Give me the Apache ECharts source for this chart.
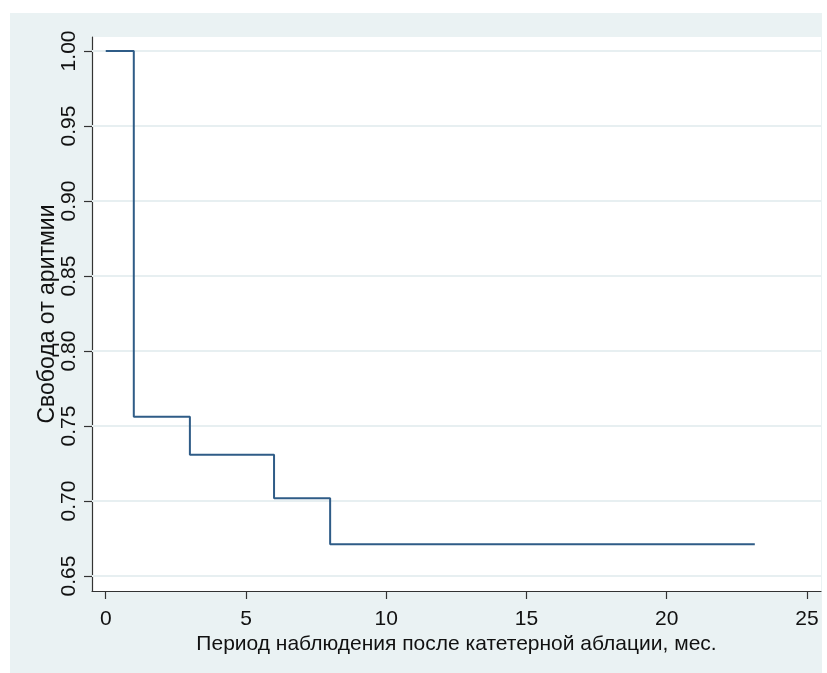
<!DOCTYPE html>
<html>
<head>
<meta charset="utf-8">
<script src="https://cdn.jsdelivr.net/npm/echarts@6/dist/echarts.min.js"></script>
<style>
html,body{margin:0;padding:0;background:#ffffff;}
#wrap{position:absolute;left:10px;top:13px;width:812px;height:660px;background:#eaf2f3;}
#chart{position:absolute;left:0;top:0;width:827px;height:673px;}
</style>
</head>
<body>
<div id="wrap"></div>
<div id="chart"></div>
<script>
// Kaplan-Meier step data
const times = [0, 1, 3, 6, 8, 23.14];
const survival = [1.0, 0.7562, 0.7309, 0.7018, 0.6711, 0.6711];
const yTicks = [0.65, 0.70, 0.75, 0.80, 0.85, 0.90, 0.95, 1.00];
const xTicks = [0, 5, 10, 15, 20, 25];
const xTitle = 'Период наблюдения после катетерной аблации, мес.';
const yTitle = 'Свобода от аритмии';

const font = '"Liberation Sans", Arial, sans-serif';
const chart = echarts.init(document.getElementById('chart'), null, {renderer: 'canvas'});
const option = {
  backgroundColor: 'transparent',
  animation: false,
  grid: {
    left: 92, top: 37, right: 6, bottom: 82,
    show: true, backgroundColor: '#ffffff', borderWidth: 0
  },
  xAxis: {
    type: 'value', min: -0.49, max: 25.5,
    name: xTitle, nameLocation: 'middle', nameGap: 43, nameMoveOverlap: false,
    nameTextStyle: {fontFamily: font, fontSize: 21, color: '#111'},
    axisLine: {show: true, onZero: false, lineStyle: {color: '#333', width: 1.2}},
    axisTick: {show: true, length: 8, customValues: xTicks, lineStyle: {color: '#333', width: 1.2}},
    axisLabel: {customValues: xTicks, fontFamily: font, fontSize: 21, color: '#111', margin: 18,
      formatter: v => String(v)},
    splitLine: {show: false}
  },
  yAxis: {
    type: 'value', min: 0.64, max: 1.0093,
    name: yTitle, nameLocation: 'middle', nameGap: 33, nameRotate: 90, nameMoveOverlap: false,
    nameTextStyle: {fontFamily: font, fontSize: 23, color: '#111'},
    axisLine: {show: true, onZero: false, lineStyle: {color: '#333', width: 1.2}},
    axisTick: {show: true, length: 8, customValues: yTicks, lineStyle: {color: '#333', width: 1.2}},
    axisLabel: {customValues: yTicks, rotate: 90, fontFamily: font, fontSize: 21, color: '#111', margin: 12,
      formatter: v => v.toFixed(2)},
    splitLine: {show: false}
  },
  series: [{
    type: 'line',
    step: 'end',
    data: times.map((t, i) => [t, survival[i]]),
    showSymbol: false,
    lineStyle: {color: '#2f5c87', width: 2},
    z: 3,
    markLine: {
      silent: true, symbol: 'none', label: {show: false},
      lineStyle: {color: '#e7eff1', width: 2, type: 'solid'},
      z: 1,
      data: yTicks.map(v => ({yAxis: v}))
    }
  }]
};
chart.setOption(option);
</script>
</body>
</html>
